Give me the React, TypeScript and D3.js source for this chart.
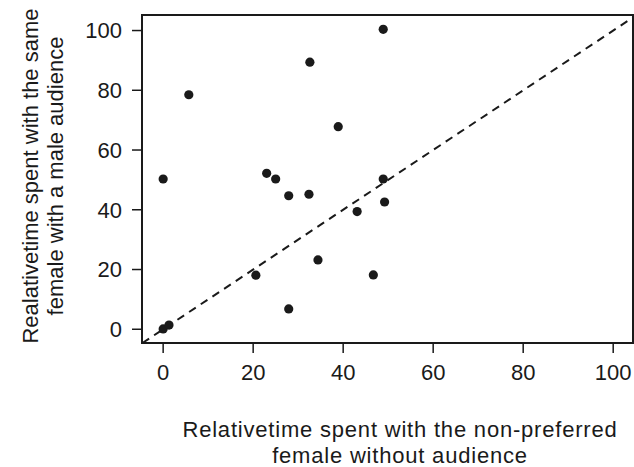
import React from "react";
import * as d3 from "d3";

// x: without audience, y: with a male audience
const withoutAudience = [48.9, 32.6, 5.7, 38.9, 0, 23.0, 25.0, 27.9, 32.4, 48.9, 49.2, 43.1, 34.4, 20.6, 46.7, 27.9, 0, 1.3];
const withMaleAudience = [100.4, 89.4, 78.5, 67.8, 50.3, 52.2, 50.3, 44.7, 45.2, 50.3, 42.6, 39.4, 23.2, 18.1, 18.2, 6.8, 0.1, 1.4];
const tickValues = [0, 20, 40, 60, 80, 100];

const xTitle = ["Relativetime spent with the non-preferred", "female without audience"];
const yTitle = ["Realativetime spent with the same", "female with a male audience"];

const App = () => {
  const width = 634;
  const height = 467;
  const left = 142;
  const right = 633;
  const top = 15;
  const bottom = 343;

  const x = d3.scaleLinear().domain([-4.7, 104.4]).range([left, right]);
  const y = d3.scaleLinear().domain([-4.6, 105.2]).range([bottom, top]);

  const font = "'Liberation Sans', Arial, Helvetica, sans-serif";
  const ink = "#1a1a1a";

  // y = x reference line, clipped to the plot box
  const lo = Math.max(x.domain()[0], y.domain()[0]);
  const hi = Math.min(x.domain()[1], y.domain()[1]);
  const diag = d3.line<number>().x((d) => x(d)).y((d) => y(d))([lo, hi]) || "";

  const points = withoutAudience.map((v, i) => ({ x: v, y: withMaleAudience[i] }));

  return (
    <svg
      width={width}
      height={height}
      style={{ position: "absolute", left: 0, top: 0, background: "#fff" }}
      fontFamily={font}
    >
      <rect width={width} height={height} fill="#fff" />

      <path d={diag} stroke={ink} strokeWidth={2} strokeDasharray="8,6" fill="none" />

      {points.map((p, i) => (
        <circle key={i} cx={x(p.x)} cy={y(p.y)} r={4.6} fill={ink} />
      ))}

      <rect
        x={left}
        y={top}
        width={right - left}
        height={bottom - top}
        fill="none"
        stroke={ink}
        strokeWidth={2}
      />

      {/* x axis */}
      {tickValues.map((t) => (
        <g key={"x" + t}>
          <line x1={x(t)} x2={x(t)} y1={bottom} y2={bottom + 10} stroke={ink} strokeWidth={1.5} />
          <text x={x(t)} y={380} textAnchor="middle" fontSize={22} fill={ink}>
            {t}
          </text>
        </g>
      ))}

      {/* y axis */}
      {tickValues.map((t) => (
        <g key={"y" + t}>
          <line x1={left - 10} x2={left} y1={y(t)} y2={y(t)} stroke={ink} strokeWidth={1.5} />
          <text x={left - 20} y={y(t)} dy="0.36em" textAnchor="end" fontSize={22} fill={ink}>
            {t}
          </text>
        </g>
      ))}

      {/* axis titles */}
      <text x={400} textAnchor="middle" fontSize={22} fill={ink} letterSpacing={0.8}>
        <tspan x={400} y={437}>{xTitle[0]}</tspan>
        <tspan x={400} y={463}>{xTitle[1]}</tspan>
      </text>

      <g transform="translate(0,176) rotate(-90)">
        <text textAnchor="middle" fontSize={22} fill={ink}>
          <tspan x={0} y={38}>{yTitle[0]}</tspan>
          <tspan x={0} y={63}>{yTitle[1]}</tspan>
        </text>
      </g>
    </svg>
  );
};

export default App;
